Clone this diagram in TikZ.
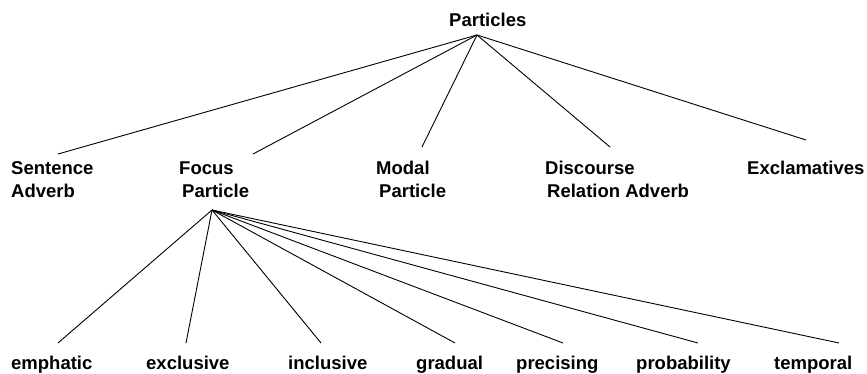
\documentclass[tikz,border=0pt]{standalone}
\usepackage{fontspec}
\setmainfont{Liberation Sans}
\usetikzlibrary{positioning}
\tikzset{
  lbl/.style={font=\bfseries\fontsize{18.5}{22}\selectfont, inner sep=0pt, anchor=base west, align=left},
  edge/.style={line width=0.9pt}
}

\begin{document}
\begin{tikzpicture}[x=1pt, y=-1pt]
    \useasboundingbox (0,0) rectangle (867,374);

    % Root
    \node[lbl] (root) at (449,27) {Particles};
    \coordinate (top) at (477,35);

    % First level (two-line labels sit on their last line)
    \node[lbl] (sent) at (11,197) {Sentence\\Adverb};
    \node[lbl] (focus) at (179,197) {Focus\\\hspace*{3pt}Particle};
    \node[lbl] (modal) at (376,197) {Modal\\\hspace*{3pt}Particle};
    \node[lbl] (disc) at (545,197) {Discourse\\\hspace*{2pt}Relation Adverb};
    \node[lbl] (excl) at (747,175) {Exclamatives};

    \coordinate (sentE) at (58,154);
    \coordinate (focusE) at (253,154);
    \coordinate (modalE) at (422,147);
    \coordinate (discE) at (610,147);
    \coordinate (exclE) at (806,140);
    \foreach \e in {sentE, focusE, modalE, discE, exclE}
        \draw[edge] (top) -- (\e);

    % Kinds of focus particles
    \coordinate (ftop) at (212,210);
    \foreach \n/\x/\ex in {emphatic/11/58, exclusive/146/186, inclusive/288/321,
                           gradual/416/455, precising/516/563, probability/636/698,
                           temporal/774/839} {
        \node[lbl] (\n) at (\x,369) {\n};
        \coordinate (\n E) at (\ex,343);
        \draw[edge] (ftop) -- (\n E);
    }

\end{tikzpicture}
\end{document}
